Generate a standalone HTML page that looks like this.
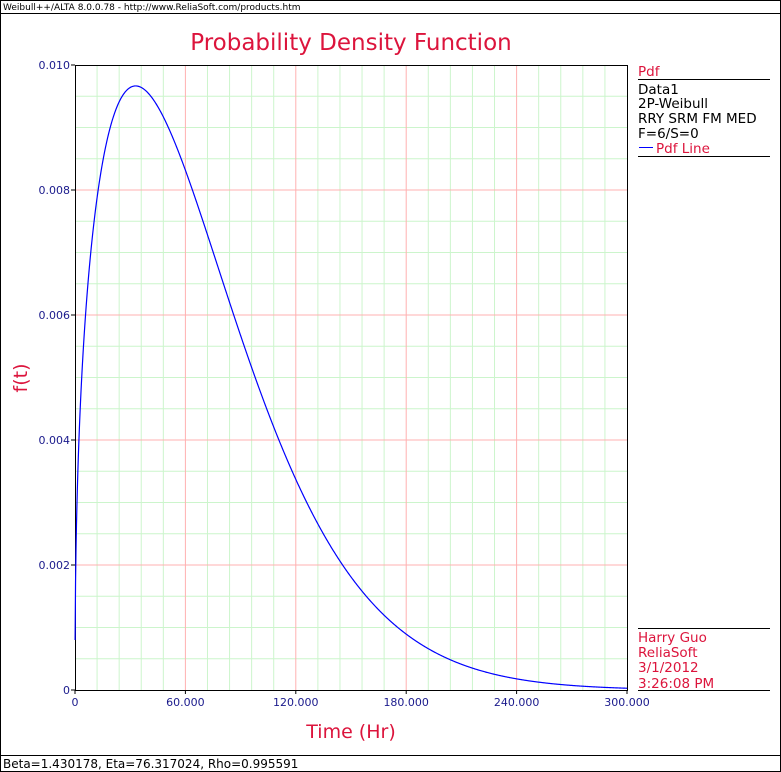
<!DOCTYPE html>
<html><head><meta charset="utf-8"><style>
body{margin:0;background:#fff;}
svg{display:block;font-family:"DejaVu Sans","Liberation Sans",sans-serif;}
</style></head><body>
<svg id="s" width="781" height="772" xmlns="http://www.w3.org/2000/svg">
<rect x="0.5" y="0.5" width="780" height="771" fill="#fff" stroke="#000"/>
<line x1="0" y1="13.5" x2="781" y2="13.5" stroke="#000"/>
<text x="3" y="10" font-size="9" fill="#000">Weibull++/ALTA 8.0.0.78 - http://www.ReliaSoft.com/products.htm</text>
<line x1="0" y1="755.5" x2="781" y2="755.5" stroke="#000"/>
<text x="3" y="768" font-size="12" fill="#000">Beta=1.430178, Eta=76.317024, Rho=0.995591</text>
<text x="351" y="50" font-size="23" fill="#dc143c" text-anchor="middle">Probability Density Function</text>
<g id="grid"></g>
<rect x="75.5" y="65.5" width="552" height="625" fill="none" stroke="#000"/>
<path id="curve" fill="none" stroke="#0000ff" stroke-width="1.2"/>
<g font-size="11" fill="#1a1a8c" id="lbl"></g>
<text x="351" y="738" font-size="19" fill="#dc143c" text-anchor="middle">Time (Hr)</text>
<text transform="translate(27,378) rotate(-90)" font-size="19" fill="#dc143c" text-anchor="middle">f(t)</text>
<g font-size="13.5">
<text x="638" y="76" fill="#dc143c">Pdf</text>
<line x1="638" y1="79.5" x2="770" y2="79.5" stroke="#000"/>
<text x="638" y="94" fill="#000">Data1</text>
<text x="638" y="108" fill="#000">2P-Weibull</text>
<text x="638" y="123" fill="#000">RRY SRM FM MED</text>
<text x="638" y="138" fill="#000">F=6/S=0</text>
<line x1="639" y1="147.5" x2="653" y2="147.5" stroke="#0000ff"/>
<text x="656" y="153" fill="#dc143c">Pdf Line</text>
<line x1="638" y1="156.5" x2="770" y2="156.5" stroke="#000"/>
<line x1="638" y1="628.5" x2="770" y2="628.5" stroke="#000"/>
<text x="638" y="642" fill="#dc143c">Harry Guo</text>
<text x="638" y="657" fill="#dc143c">ReliaSoft</text>
<text x="638" y="672" fill="#dc143c">3/1/2012</text>
<text x="638" y="688" fill="#dc143c">3:26:08 PM</text>
<line x1="638" y1="690.5" x2="770" y2="690.5" stroke="#000"/>
</g>
</svg>
<script>
var NS="http://www.w3.org/2000/svg",g=document.getElementById('grid'),l=document.getElementById('lbl');
function el(p,t,a,tx){var e=document.createElementNS(NS,t);for(var k in a)e.setAttribute(k,a[k]);if(tx)e.textContent=tx;p.appendChild(e);}
var X0=75,X1=627,Y0=690,Y1=65;
for(var i=1;i<25;i++){var x=X0+i*(X1-X0)/25;if(i%5)el(g,'line',{x1:x,x2:x,y1:Y1,y2:Y0,stroke:'#ccf5cc'});}
for(var i=1;i<20;i++){var y=Y0-i*(Y0-Y1)/20;if(i%4)el(g,'line',{x1:X0,x2:X1,y1:y,y2:y,stroke:'#ccf5cc'});}
for(var i=1;i<5;i++){var x=X0+i*(X1-X0)/5;el(g,'line',{x1:x,x2:x,y1:Y1,y2:Y0,stroke:'#ffb0b0'});}
for(var i=1;i<5;i++){var y=Y0-i*(Y0-Y1)/5;el(g,'line',{x1:X0,x2:X1,y1:y,y2:y,stroke:'#ffb0b0'});}
var xl=['0','60.000','120.000','180.000','240.000','300.000'];
for(var i=0;i<6;i++){var x=X0+i*(X1-X0)/5;el(l,'text',{x:x,y:706,'text-anchor':'middle'},xl[i]);el(l,'line',{x1:x,x2:x,y1:Y0,y2:Y0+4,stroke:'#000'});}
var yl=['0','0.002','0.004','0.006','0.008','0.010'];
for(var i=0;i<6;i++){var y=Y0-i*(Y0-Y1)/5;el(l,'text',{x:70,y:y+4,'text-anchor':'end'},yl[i]);el(l,'line',{x1:X0-4,x2:X0,y1:y,y2:y,stroke:'#000'});}
var b=1.430178,e=76.317024,d='';
for(var i=0;i<=1200;i++){var t=0.05+i*300/1200;var f=(b/e)*Math.pow(t/e,b-1)*Math.exp(-Math.pow(t/e,b));
var x=X0+t*(X1-X0)/300,y=Y0-f/0.01*(Y0-Y1);d+=(i?'L':'M')+x.toFixed(2)+','+y.toFixed(2);}
document.getElementById('curve').setAttribute('d',d);
</script>
</body></html>
